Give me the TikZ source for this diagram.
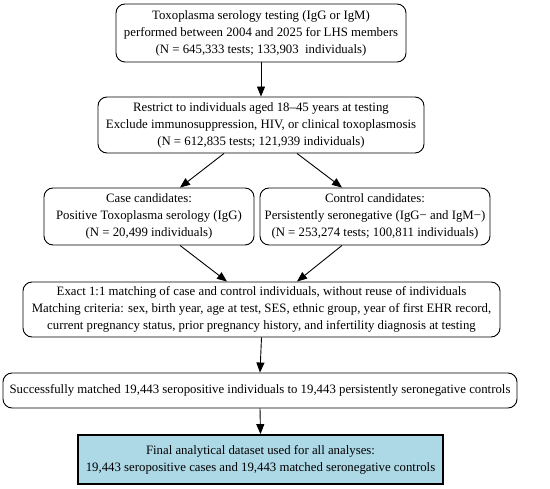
\documentclass[tikz,border=0pt]{standalone}
\usepackage{fontspec}
\setmainfont{Liberation Serif}
\usetikzlibrary{arrows.meta}
\begin{document}
\begin{tikzpicture}[x=1pt,y=-1pt,
  box/.style={draw, line width=0.9pt, rounded corners=9pt, align=center, inner sep=0pt,
    font=\fontsize{12.8}{17}\selectfont},
  finalbox/.style={draw, line width=1.8pt, fill=finalblue, align=center, inner sep=0pt,
    font=\fontsize{12.8}{17}\selectfont},
  arr/.style={line width=0.9pt, -{Triangle[length=10pt,width=8pt]}}]
\definecolor{finalblue}{HTML}{ADD8E6}
\useasboundingbox (0,0) rectangle (550,489);
\node[box, minimum width=290pt, minimum height=58pt] (b1) at (261,33)
  {Toxoplasma serology testing (IgG or IgM)\\performed between 2004 and 2025 for LHS members\\(N = 645,333 tests; 133,903~ individuals)};
\node[box, minimum width=326pt, minimum height=56pt] (b2) at (261,125)
  {Restrict to individuals aged 18–45 years at testing\\Exclude immunosuppression, HIV, or clinical toxoplasmosis\\(N = 612,835 tests; 121,939 individuals)};
\node[box, minimum width=210pt, minimum height=57pt] (b3) at (149,216.5)
  {Case candidates:\\Positive Toxoplasma serology (IgG)\\(N = 20,499 individuals)};
\node[box, minimum width=230pt, minimum height=57pt] (b4) at (375,216.5)
  {Control candidates:\\Persistently seronegative (IgG− and IgM−)\\(N = 253,274 tests; 100,811 individuals)};
\node[box, minimum width=477pt, minimum height=55pt] (b5) at (261.5,309.5)
  {Exact 1:1 matching of case and control individuals, without reuse of individuals\\Matching criteria: sex, birth year, age at test, SES, ethnic group, year of first EHR record,\\current pregnancy status, prior pregnancy history, and infertility diagnosis at testing};
\node[box, minimum width=514pt, minimum height=35pt] (b6) at (260,390.5)
  {Successfully matched 19,443 seropositive individuals to 19,443 persistently seronegative controls};
\node[finalbox, minimum width=365pt, minimum height=49pt] (b7) at (260.5,459.5)
  {Final analytical dataset used for all analyses:\\19,443 seropositive cases and 19,443 matched seronegative controls};
\draw[arr] (b1.south) -- (b2.north);
\draw[arr] ([xshift=-37pt]b2.south) -- ([xshift=31pt]b3.north);
\draw[arr] ([xshift=36pt]b2.south) -- ([xshift=-33pt]b4.north);
\draw[arr] ([xshift=31pt]b3.south) -- ([xshift=-34.5pt]b5.north);
\draw[arr] ([xshift=-33pt]b4.south) -- ([xshift=35.5pt]b5.north);
\draw[arr] (b5.south) -- (b6.north);
\draw[arr] (b6.south) -- (b7.north);
\end{tikzpicture}
\end{document}
